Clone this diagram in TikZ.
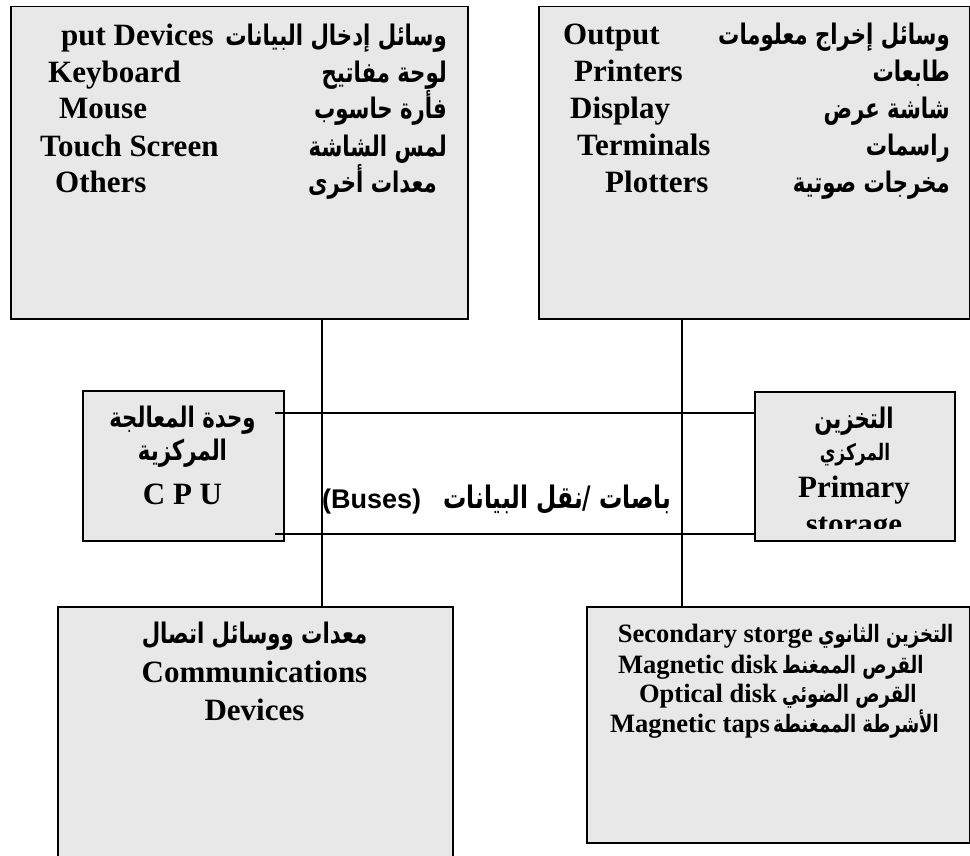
\documentclass[tikz,border=0pt]{standalone}
\usepackage{fontspec}
\setmainfont{Liberation Serif}
\newfontfamily\arfont[Script=Arabic, FakeStretch=0.75]{DejaVu Sans}
\newfontfamily\busfont{Liberation Sans}
\TeXXeTstate=1
\usetikzlibrary{calc}
\definecolor{boxfill}{RGB}{232,232,232}

\begin{document}
\begin{tikzpicture}[x=1pt,y=-1pt,
  panel/.style={draw=black, line width=1.5pt, fill=boxfill, inner sep=0pt},
  link/.style={draw=black, line width=1.2pt},
  en/.style={inner sep=0pt, font=\fontsize{31}{36}\selectfont\bfseries},
  ensmall/.style={inner sep=0pt, font=\fontsize{26.5}{30}\selectfont\bfseries},
  ar/.style={inner sep=0pt, font=\fontsize{28.3}{32}\selectfont\arfont\bfseries},
  arsmall/.style={inner sep=0pt, font=\fontsize{22.7}{26}\selectfont\arfont\bfseries},
  arsec/.style={inner sep=0pt, font=\fontsize{24}{28}\selectfont\arfont\bfseries},
]
\useasboundingbox (0,0) rectangle (970,856);

% unit boxes
\node[panel, anchor=north west, minimum width=457pt, minimum height=312pt] (inp) at (10,6) {};
\node[panel, anchor=north west, minimum width=431pt, minimum height=312pt] (outp) at (538,6) {};
\node[panel, anchor=north west, minimum width=201pt, minimum height=150pt] (cpu) at (82,390) {};
\node[panel, anchor=north west, minimum width=200pt, minimum height=149pt] (prim) at (754,391) {};
\node[panel, anchor=north west, minimum width=395pt, minimum height=300pt] (comm) at (57,606) {};
\node[panel, anchor=north west, minimum width=383pt, minimum height=236pt] (sec) at (586,606) {};

% bus lines
\coordinate (busL) at (322,0);
\coordinate (busR) at (682,0);
\coordinate (busT) at (0,413);
\coordinate (busB) at (0,534);
\draw[link] (busL |- inp.south) -- (busL |- comm.north);
\draw[link] (busR |- outp.south) -- (busR |- sec.north);
\draw[link] ($(cpu.east |- busT)+(-10,0)$) -- (prim.west |- busT);
\draw[link] ($(cpu.east |- busB)+(-10,0)$) -- (prim.west |- busB);

% input devices
\node[ar, anchor=base east] (in1a) at (447,46) {\beginR وسائل إدخال البيانات\endR};
\node[en, anchor=base west] (in1e) at (61,46) {put Devices};
\node[ar, anchor=base east] (in2a) at (447,83) {\beginR لوحة مفاتيح\endR};
\node[en, anchor=base west] (in2e) at (48,83) {Keyboard};
\node[ar, anchor=base east] (in3a) at (447,119) {\beginR فأرة حاسوب\endR};
\node[en, anchor=base west] (in3e) at (59,119) {Mouse};
\node[ar, anchor=base east] (in4a) at (447,157) {\beginR لمس الشاشة\endR};
\node[en, anchor=base west] (in4e) at (40,157) {Touch Screen};
\node[ar, anchor=base east] (in5a) at (437,193) {\beginR معدات أخرى\endR};
\node[en, anchor=base west] (in5e) at (55,193) {Others};

% output devices
\node[ar, anchor=base east] (out1a) at (950,45) {\beginR وسائل إخراج معلومات\endR};
\node[en, anchor=base west] (out1e) at (563,45) {Output};
\node[ar, anchor=base east] (out2a) at (950,82) {\beginR طابعات\endR};
\node[en, anchor=base west] (out2e) at (574,82) {Printers};
\node[ar, anchor=base east] (out3a) at (950,119) {\beginR شاشة عرض\endR};
\node[en, anchor=base west] (out3e) at (570,119) {Display};
\node[ar, anchor=base east] (out4a) at (950,156) {\beginR راسمات\endR};
\node[en, anchor=base west] (out4e) at (577,156) {Terminals};
\node[ar, anchor=base east] (out5a) at (950,193) {\beginR مخرجات صوتية\endR};
\node[en, anchor=base west] (out5e) at (605,193) {Plotters};

% central processing unit
\node[ar, anchor=base] (cpu1) at (182.5,427) {\beginR وحدة المعالجة\endR};
\node[ar, anchor=base] (cpu2) at (182.5,460) {\beginR المركزية\endR};
\node[en, anchor=base] (cpu3) at (182.5,504) {C P U};

% primary storage
\node[ar, anchor=base] (prim1) at (854,428) {\beginR التخزين\endR};
\node[arsmall, anchor=base] (prim2) at (855,460) {\beginR المركزي\endR};
\node[en, anchor=base] (prim3) at (854,497) {Primary};
\begin{scope}
  \clip (prim.north west) rectangle (954,528);
  \node[en, anchor=base] (prim4) at (854,534) {storage};
\end{scope}

% buses label
\node[inner sep=0pt, anchor=base west, font=\fontsize{27}{32}\selectfont\bfseries] (bus) at (322,508)
  {{\busfont (Buses)}\hspace{22pt}{\arfont\fontsize{31}{36}\selectfont\beginR باصات /نقل البيانات\endR}};

% communications
\node[ar, anchor=base] (comm1) at (254.5,643) {\beginR معدات ووسائل اتصال\endR};
\node[en, anchor=base] (comm2) at (254.5,682) {Communications};
\node[en, anchor=base] (comm3) at (254.5,720) {Devices};

% secondary storage
\node[ensmall, anchor=base east] (sec1e) at (813,642) {Secondary storge};
\node[arsec, anchor=base west] (sec1a) at (818,642) {\beginR التخزين الثانوي\endR};
\node[ensmall, anchor=base east] (sec2e) at (778,673) {Magnetic disk};
\node[arsec, anchor=base west] (sec2a) at (782,673) {\beginR القرص الممغنط\endR};
\node[ensmall, anchor=base east] (sec3e) at (777,702) {Optical disk};
\node[arsec, anchor=base west] (sec3a) at (782,702) {\beginR القرص الضوئي\endR};
\node[ensmall, anchor=base east] (sec4e) at (770,732) {Magnetic taps};
\node[arsec, anchor=base west] (sec4a) at (773,732) {\beginR الأشرطة الممغنطة\endR};
\end{tikzpicture}
\end{document}
